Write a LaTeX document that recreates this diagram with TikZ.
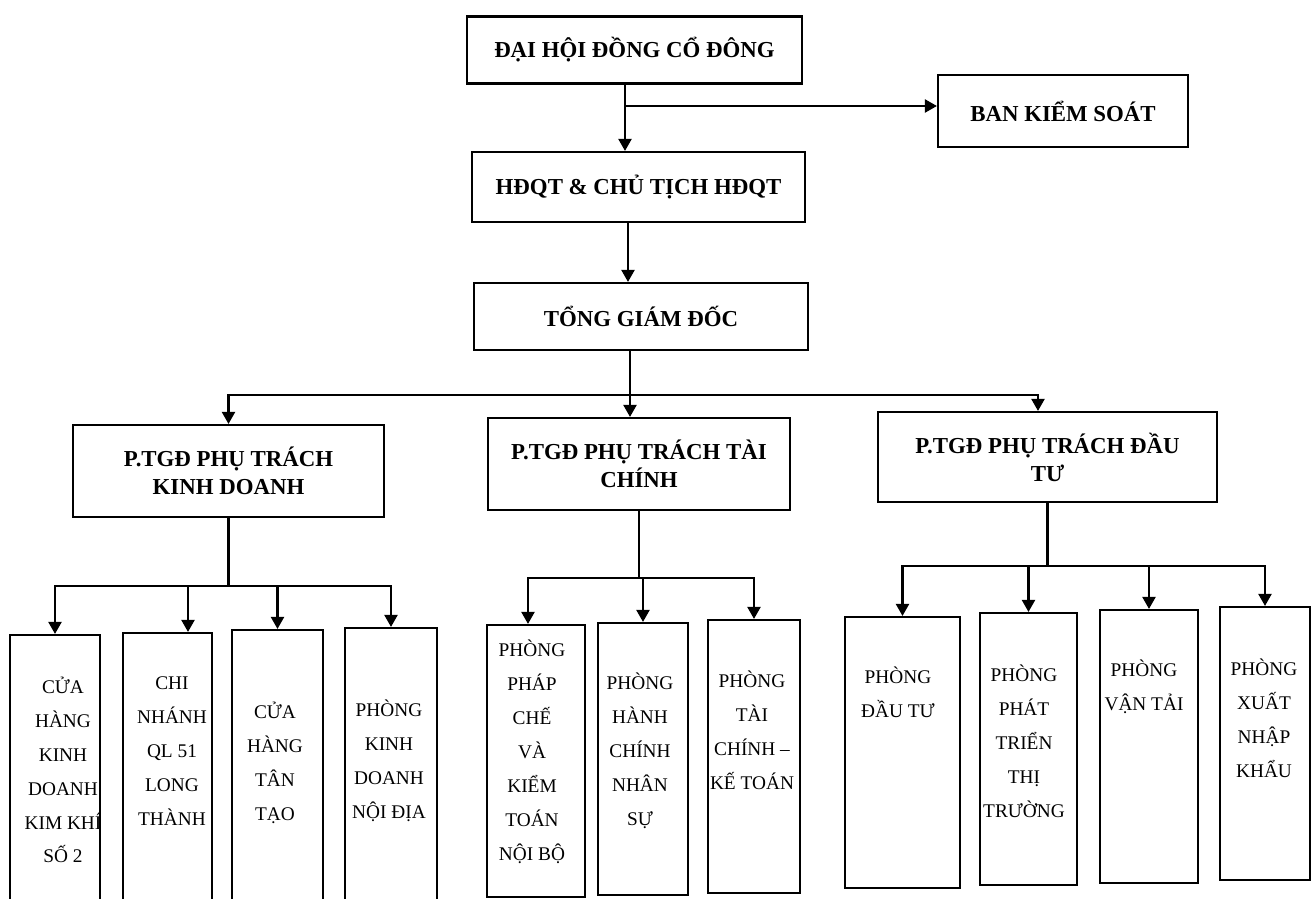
\documentclass[tikz,border=0pt]{standalone}
\usepackage{fontspec}
\setmainfont{Liberation Serif}
\usetikzlibrary{arrows.meta}

\begin{document}
\begin{tikzpicture}[
    x=0.2mm, y=-0.2mm,
    block/.style={rectangle, draw, line width=1.2pt, inner sep=0pt, align=center, font=\bfseries\fontsize{13}{16}\selectfont},
    unit/.style={rectangle, draw, line width=1.2pt, inner sep=0pt},
    unittext/.style={align=center, inner sep=0pt, font=\fontsize{11}{19.3}\selectfont},
    link/.style={line width=1.2pt},
    arrow/.style={line width=1.2pt, ->, >={Triangle[length=2.4mm, width=2.6mm]}}
]
\useasboundingbox (0,0) rectangle (1313,899);

% Top level
\node[block, minimum width=67mm, minimum height=13.4mm] (dhdcd) at (634.5,50) {ĐẠI HỘI ĐỒNG CỔ ĐÔNG};
\node[block, minimum width=50mm, minimum height=14.4mm] (bks) at (1063,111) {BAN KIỂM SOÁT};
\node[block, minimum width=66.6mm, minimum height=14mm] (hdqt) at (638.5,187) {HĐQT \& CHỦ TỊCH HĐQT};
\node[block, minimum width=66.8mm, minimum height=13.4mm] (tgd) at (641,316.5) {TỔNG GIÁM ĐỐC};

% Deputies
\node[block, minimum width=62.2mm, minimum height=18.4mm] (ptkd) at (228.5,471) {P.TGĐ PHỤ TRÁCH\\KINH DOANH};
\node[block, minimum width=60.4mm, minimum height=18.4mm] (pttc) at (639,464) {P.TGĐ PHỤ TRÁCH TÀI\\CHÍNH};
\node[block, minimum width=67.8mm, minimum height=18mm] (ptdt) at (1047.5,457) {P.TGĐ PHỤ TRÁCH ĐẦU\\TƯ};

% Units under kinh doanh
\node[unit, minimum width=18mm, minimum height=54mm] (u1) at (55,770) {};
\node[unit, minimum width=17.8mm, minimum height=54.4mm] (u2) at (167.5,769) {};
\node[unit, minimum width=18.2mm, minimum height=55mm] (u3) at (277.5,767.5) {};
\node[unit, minimum width=18.4mm, minimum height=55.4mm] (u4) at (391,766.5) {};

% Units under tai chinh
\node[unit, minimum width=19.6mm, minimum height=54.4mm] (u5) at (536,761) {};
\node[unit, minimum width=18mm, minimum height=54.4mm] (u6) at (643,759) {};
\node[unit, minimum width=18.4mm, minimum height=54.6mm] (u7) at (754,756.5) {};

% Units under dau tu
\node[unit, minimum width=23mm, minimum height=54.2mm] (u8) at (902.5,752.5) {};
\node[unit, minimum width=19.4mm, minimum height=54.4mm] (u9) at (1028.5,749) {};
\node[unit, minimum width=19.6mm, minimum height=54.6mm] (u10) at (1149,746.5) {};
\node[unit, minimum width=18mm, minimum height=54.6mm] (u11) at (1265,743.5) {};

% Unit labels
\node[unittext] (t1) at (63,770) {CỬA\\HÀNG\\KINH\\DOANH\\KIM KHÍ\\SỐ 2};
\node[unittext] (t2) at (172,751) {CHI\\NHÁNH\\QL 51\\LONG\\THÀNH};
\node[unittext] (t3) at (275,763) {CỬA\\HÀNG\\TÂN\\TẠO};
\node[unittext] (t4) at (389,761) {PHÒNG\\KINH\\DOANH\\NỘI ĐỊA};
\node[unittext] (t5) at (532,752) {PHÒNG\\PHÁP\\CHẾ\\VÀ\\KIỂM\\TOÁN\\NỘI BỘ};
\node[unittext] (t6) at (640,751) {PHÒNG\\HÀNH\\CHÍNH\\NHÂN\\SỰ};
\node[unittext] (t7) at (752,730) {PHÒNG\\TÀI\\CHÍNH –\\KẾ TOÁN};
\node[unittext] (t8) at (898,692) {PHÒNG\\ĐẦU TƯ};
\node[unittext] (t9) at (1024,741) {PHÒNG\\PHÁT\\TRIỂN\\THỊ\\TRƯỜNG};
\node[unittext] (t10) at (1144,687) {PHÒNG\\VẬN TẢI};
\node[unittext] (t11) at (1264,718) {PHÒNG\\XUẤT\\NHẬP\\KHẨU};

% Junctions
\coordinate (j1) at (625,106);
\coordinate (j2) at (628,250);
\coordinate (b0) at (630,395);
\coordinate (b1) at (228.5,586);
\coordinate (b2) at (639,578);
\coordinate (b3) at (1047.5,566);

% Arrows, top
\draw[link] (dhdcd.south -| j1) -- (j1);
\draw[arrow] (j1) -- (hdqt.north -| j1);
\draw[arrow] (j1) -- (bks.west |- j1);
\draw[arrow] (hdqt.south -| j2) -- (tgd.north -| j2);

% Arrows to deputies
\draw[link] (tgd.south -| b0) -- (b0);
\draw[arrow] (b0) -| (ptkd.north);
\draw[arrow] (b0) -- (pttc.north -| b0);
\draw[arrow] (b0) -| ([xshift=-1.9mm]ptdt.north);

% Arrows to units
\draw[link] (ptkd.south) -- (b1);
\draw[arrow] (b1) -| (u1.north);
\draw[arrow] (b1) -| ([xshift=4.1mm]u2.north);
\draw[arrow] (b1) -| (u3.north);
\draw[arrow] (b1) -| (u4.north);

\draw[link] (pttc.south) -- (b2);
\draw[arrow] (b2) -| ([xshift=-1.6mm]u5.north);
\draw[arrow] (b2) -| (u6.north);
\draw[arrow] (b2) -| (u7.north);

\draw[link] (ptdt.south) -- (b3);
\draw[arrow] (b3) -| (u8.north);
\draw[arrow] (b3) -| (u9.north);
\draw[arrow] (b3) -| (u10.north);
\draw[arrow] (b3) -| (u11.north);

\end{tikzpicture}
\end{document}
